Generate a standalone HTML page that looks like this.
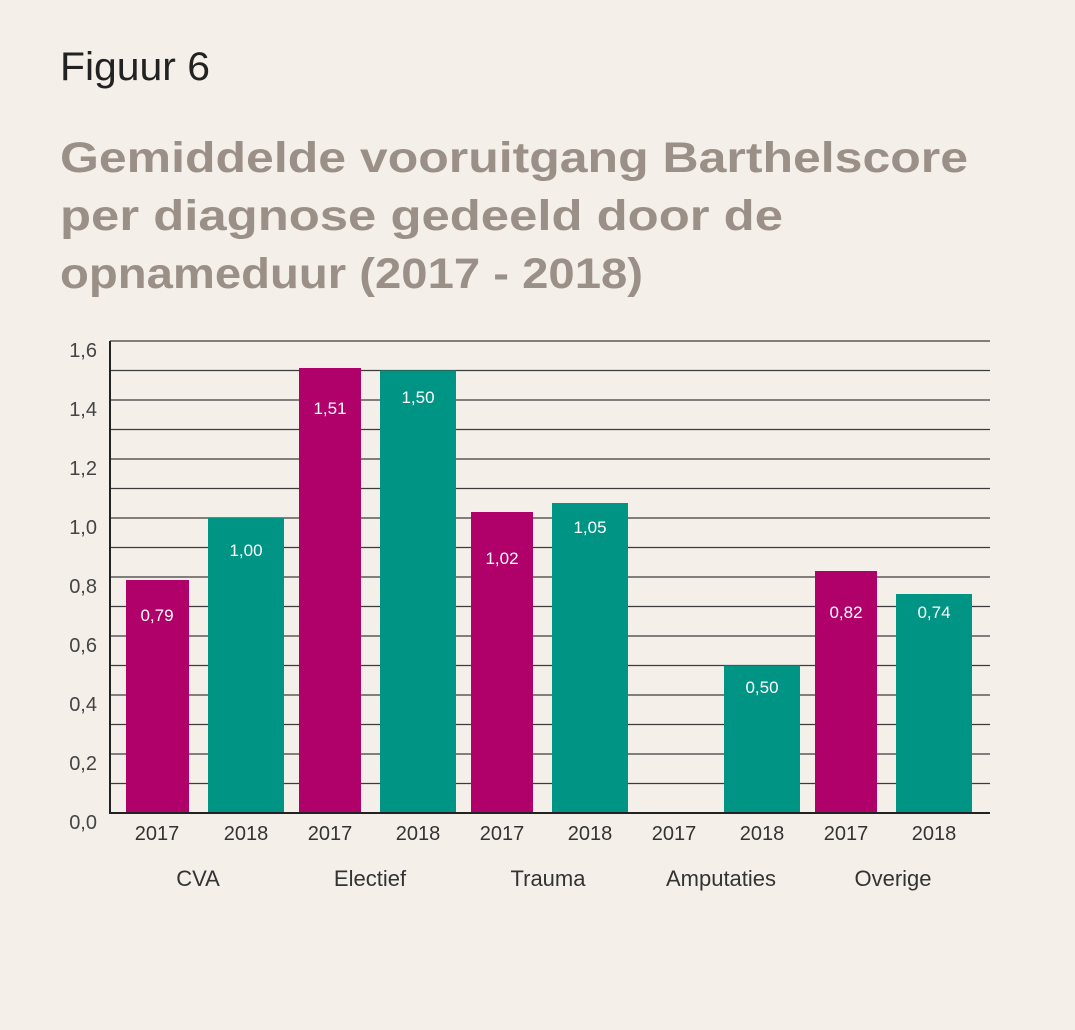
<!DOCTYPE html><html><head><meta charset="utf-8"><style>
body{margin:0;background:#f5efea;}
svg{display:block}
</style></head><body>
<svg width="1075" height="1030" xmlns="http://www.w3.org/2000/svg" font-family="Liberation Sans, sans-serif">
<rect width="1075" height="1030" fill="#f5efea"/>
<text x="60" y="80" font-size="40" fill="#222" textLength="150" lengthAdjust="spacingAndGlyphs">Figuur 6</text>
<g font-size="43" font-weight="bold" fill="#9b9087">
<text x="60" y="172" textLength="908" lengthAdjust="spacingAndGlyphs">Gemiddelde vooruitgang Barthelscore</text>
<text x="60" y="230" textLength="723" lengthAdjust="spacingAndGlyphs">per diagnose gedeeld door de</text>
<text x="60" y="288" textLength="583" lengthAdjust="spacingAndGlyphs">opnameduur (2017 - 2018)</text>
</g>
<g stroke="#3c3c3c" stroke-width="1.3">
<line x1="110" y1="341" x2="990" y2="341"/><line x1="110" y1="370.5" x2="990" y2="370.5"/>
<line x1="110" y1="400" x2="990" y2="400"/><line x1="110" y1="429.5" x2="990" y2="429.5"/>
<line x1="110" y1="459" x2="990" y2="459"/><line x1="110" y1="488.5" x2="990" y2="488.5"/>
<line x1="110" y1="518" x2="990" y2="518"/><line x1="110" y1="547.5" x2="990" y2="547.5"/>
<line x1="110" y1="577" x2="990" y2="577"/><line x1="110" y1="606.5" x2="990" y2="606.5"/>
<line x1="110" y1="636" x2="990" y2="636"/><line x1="110" y1="665.5" x2="990" y2="665.5"/>
<line x1="110" y1="695" x2="990" y2="695"/><line x1="110" y1="724.5" x2="990" y2="724.5"/>
<line x1="110" y1="754" x2="990" y2="754"/><line x1="110" y1="783.5" x2="990" y2="783.5"/>
</g>
<g fill="#b0006a">
<rect x="126" y="580" width="63" height="233"/>
<rect x="299" y="368" width="62" height="445"/>
<rect x="471" y="512" width="62" height="301"/>
<rect x="815" y="571" width="62" height="242"/>
</g>
<g fill="#009484">
<rect x="208" y="518" width="76" height="295"/>
<rect x="380" y="370.5" width="76" height="442.5"/>
<rect x="552" y="503" width="76" height="310"/>
<rect x="724" y="665.5" width="76" height="147.5"/>
<rect x="896" y="594" width="76" height="219"/>
</g>
<line x1="110" y1="341" x2="110" y2="814" stroke="#222" stroke-width="2"/>
<line x1="109" y1="813" x2="990" y2="813" stroke="#222" stroke-width="2"/>
<g font-size="17" fill="#fff" text-anchor="middle">
<text x="157" y="621">0,79</text><text x="246" y="556">1,00</text>
<text x="330" y="414">1,51</text><text x="418" y="403">1,50</text>
<text x="502" y="564">1,02</text><text x="590" y="533">1,05</text>
<text x="762" y="693">0,50</text>
<text x="846" y="618">0,82</text><text x="934" y="618">0,74</text>
</g>
<g font-size="20" fill="#444" text-anchor="end">
<text x="97" y="357">1,6</text><text x="97" y="416">1,4</text><text x="97" y="475">1,2</text>
<text x="97" y="534">1,0</text><text x="97" y="593">0,8</text><text x="97" y="652">0,6</text>
<text x="97" y="711">0,4</text><text x="97" y="770">0,2</text><text x="97" y="829">0,0</text>
</g>
<g font-size="20" fill="#333" text-anchor="middle">
<text x="157" y="840">2017</text><text x="246" y="840">2018</text>
<text x="330" y="840">2017</text><text x="418" y="840">2018</text>
<text x="502" y="840">2017</text><text x="590" y="840">2018</text>
<text x="674" y="840">2017</text><text x="762" y="840">2018</text>
<text x="846" y="840">2017</text><text x="934" y="840">2018</text>
<text x="198" y="886" font-size="22">CVA</text>
<text x="370" y="886" font-size="22">Electief</text>
<text x="548" y="886" font-size="22">Trauma</text>
<text x="721" y="886" font-size="22">Amputaties</text>
<text x="893" y="886" font-size="22">Overige</text>
</g>
</svg>
</body></html>
